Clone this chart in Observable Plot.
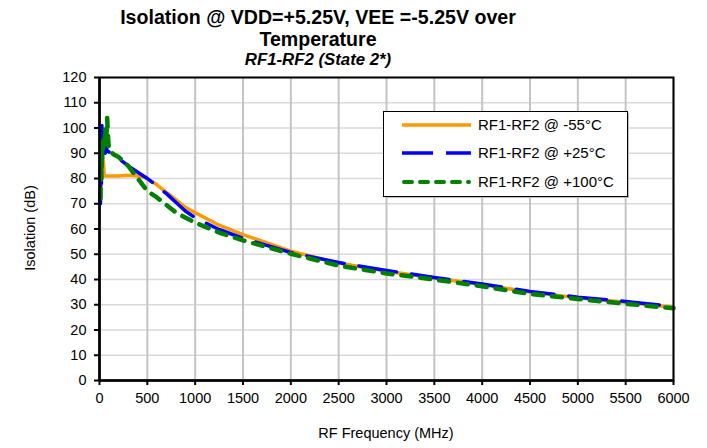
<!DOCTYPE html>
<html><head><meta charset="utf-8">
<script src="https://cdn.jsdelivr.net/npm/d3@7"></script>
<script src="https://cdn.jsdelivr.net/npm/@observablehq/plot@0.6"></script>
<style>
body{margin:0;background:#fff;font-family:Arial,"Liberation Sans",sans-serif;}
#wrap{position:relative;width:707px;height:448px;overflow:hidden;}
.t{position:absolute;left:0;width:636px;text-align:center;color:#000;white-space:nowrap;}
#t1{top:6px;font-size:19.6px;font-weight:bold;}
#t2{top:28px;font-size:19.6px;font-weight:bold;}
#t3{top:50px;font-size:16.8px;font-weight:bold;font-style:italic;}
#xl{position:absolute;left:99px;width:574px;top:425px;text-align:center;font-size:14.5px;}
#yl{position:absolute;left:30px;top:228px;transform:translate(-50%,-50%) rotate(-90deg);font-size:14.5px;white-space:nowrap;}
#leg{position:absolute;left:0;top:0;}
</style></head><body>
<div id="wrap">
<div class="t" id="t1">Isolation @ VDD=+5.25V, VEE =-5.25V over</div>
<div class="t" id="t2">Temperature</div>
<div class="t" id="t3">RF1-RF2 (State 2*)</div>
<div id="xl">RF Frequency (MHz)</div>
<div id="yl">Isolation (dB)</div>
</div>
<script>
// Series names
const seriesNames = ["RF1-RF2 @ -55°C", "RF1-RF2 @ +25°C", "RF1-RF2 @ +100°C"];
// Frequencies (MHz) and isolation (dB) per series
const freqM55 = [10, 20, 30, 40, 50, 100, 200, 300, 400, 460, 500, 600, 700, 800, 900, 1000, 1250, 1500, 2000, 2500, 3000, 3500, 4000, 4500, 5000, 5500, 6000];
const isoM55  = [80, 86, 83, 87, 81, 81, 81, 81.3, 81, 80.6, 80, 77.5, 74.5, 71.5, 68.5, 66.5, 61.5, 57.8, 51.2, 46.5, 43.3, 40.6, 38, 35, 32.8, 31, 29];
const freqP25 = [10, 15, 20, 25, 30, 40, 50, 60, 70, 80, 100, 200, 300, 400, 500, 600, 700, 800, 900, 1000, 1250, 1500, 2000, 2500, 3000, 3500, 4000, 4500, 5000, 5500, 6000];
const isoP25  = [70, 85, 78, 101, 92, 100, 95, 90, 93, 91, 90.5, 88, 85, 82.5, 80, 77, 74, 70.5, 67, 64.5, 59.8, 56.3, 50.7, 46.7, 43.6, 40.8, 38.2, 35.3, 33, 31.3, 29.3];
const freqP100 = [10, 15, 20, 25, 30, 40, 50, 60, 70, 80, 90, 100, 150, 200, 300, 400, 500, 600, 700, 800, 900, 1000, 1250, 1500, 2000, 2500, 3000, 3500, 4000, 4500, 5000, 5500, 6000];
const isoP100  = [72, 85, 80, 92, 88, 95, 92, 100, 94, 104, 96, 91, 89.5, 88.5, 85, 80, 75, 72.5, 69.5, 66.5, 64.5, 62.5, 58.6, 55.5, 50.2, 45.5, 42.4, 40, 37.3, 34.3, 32.3, 30.4, 28.6];
// Axis ticks
const xTicks = d3.range(0, 6001, 500);
const yTicks = d3.range(0, 121, 10);

const toRows = (fs, vs, name) => fs.map((f, i) => ({f, v: vs[i], s: name}));
const dM55 = toRows(freqM55, isoM55, seriesNames[0]);
const dP25 = toRows(freqP25, isoP25, seriesNames[1]);
const dP100 = toRows(freqP100, isoP100, seriesNames[2]);

const colors = ["#ff9900", "#0000ff", "#008000"];
const styles = [
  {stroke: colors[0], strokeWidth: 3.5},
  {stroke: colors[1], strokeWidth: 3.5, strokeDasharray: "38,15"},
  {stroke: colors[2], strokeWidth: 4.5, strokeDasharray: "10,9", strokeLinecap: "round"}
];

const chart = Plot.plot({
  width: 707, height: 448,
  marginLeft: 99, marginRight: 34, marginTop: 77, marginBottom: 68,
  style: {fontFamily: "Arial, 'Liberation Sans', sans-serif", fontSize: "14.5px", color: "#000", background: "#fff"},
  x: {domain: [0, 6000], ticks: xTicks, tickSize: 5, tickPadding: 7, tickFormat: d => String(d), label: null},
  y: {domain: [0, 120], ticks: yTicks, tickSize: 5, tickPadding: 8, tickFormat: d => String(d), label: null},
  marks: [
    Plot.ruleY(yTicks, {stroke: "#d9d9d9", strokeWidth: 1.5}),
    Plot.ruleX(xTicks, {stroke: "#c4c4c4", strokeWidth: 2}),
    Plot.line(dM55, {x: "f", y: "v", ...styles[0]}),
    Plot.line(dP25, {x: "f", y: "v", ...styles[1]}),
    Plot.line(dP100, {x: "f", y: "v", ...styles[2]}),
    Plot.frame({stroke: "#000", strokeWidth: 2}),
    Plot.ruleX([0], {stroke: "#000", strokeWidth: 2.5}),
    Plot.ruleY([0], {stroke: "#000", strokeWidth: 2.5})
  ]
});
chart.style.position = "absolute";
chart.style.left = "0";
chart.style.top = "0";
const wrap = document.getElementById("wrap");
wrap.insertBefore(chart, wrap.firstChild);
d3.select(chart).selectAll("[aria-label$='tick']").attr("stroke", "#000").attr("stroke-width", 2);

// Legend overlay
const leg = d3.select(wrap).append("svg").attr("id", "leg").attr("width", 707).attr("height", 448);
leg.append("rect").attr("x", 385).attr("y", 113).attr("width", 244).attr("height", 85).attr("fill", "#bdbdbd");
leg.append("rect").attr("x", 383.5).attr("y", 111.5).attr("width", 244).attr("height", 85)
  .attr("fill", "#fff").attr("stroke", "#000").attr("stroke-width", 1);
const rowY = [125, 153, 182];
seriesNames.forEach((name, i) => {
  const st = styles[i];
  const ln = leg.append("line").attr("x1", 402).attr("x2", 471).attr("y1", rowY[i]).attr("y2", rowY[i])
    .attr("stroke", st.stroke).attr("stroke-width", 3.5);
  if (i === 1) ln.attr("stroke-dasharray", "31,13");
  if (i === 2) ln.attr("stroke-dasharray", "8,8").attr("stroke-linecap", "round").attr("x1", 404).attr("x2", 469).attr("stroke-width", 4);
  leg.append("text").attr("x", 478).attr("y", rowY[i]).attr("dy", "0.35em")
    .attr("font-size", "15px").attr("font-family", "Arial, 'Liberation Sans', sans-serif").text(name);
});
</script>
</body></html>
